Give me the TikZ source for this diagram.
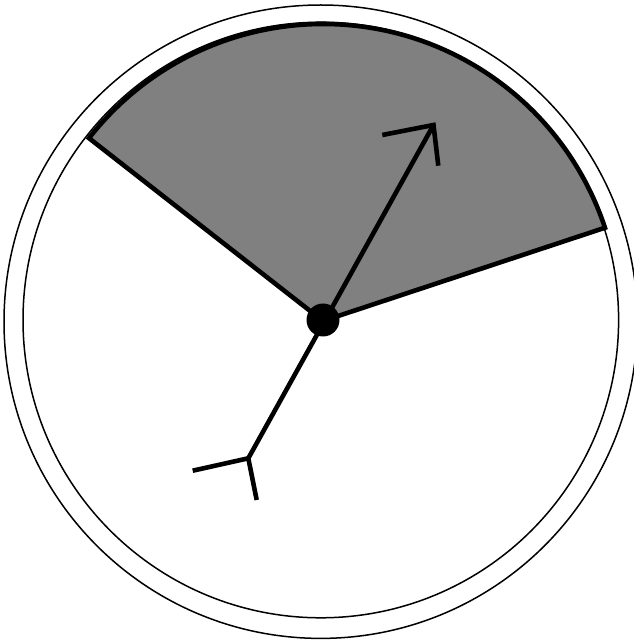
\documentclass[tikz,border=0pt]{standalone}
\definecolor{sectorgray}{RGB}{128,128,128}
\tikzset{
  ring/.style={line width=1.5pt, draw=black},
  sectorline/.style={line width=4.6pt, draw=black, fill=sectorgray, line join=miter},
  needle/.style={line width=4.6pt, draw=black, line cap=butt, line join=miter},
}
\begin{document}
\begin{tikzpicture}[x=1pt,y=1pt]
\useasboundingbox (0,0) rectangle (634,641);
% circles
\coordinate (oc) at (320.7,319.3);
\coordinate (ic) at (320.8,321);
\draw[ring] (oc) circle[radius=316.7];
\draw[ring] (ic) circle[radius=297.8];
% sector
\coordinate (c) at (323,320);
\draw[sectorline] (c) -- ++(142:297) arc[start angle=142, end angle=18.3, radius=297] -- cycle;
% needle
\coordinate (tip) at (433.5,516);
\coordinate (barbL) at (382.3,506);
\coordinate (barbR) at (438.3,475.3);
\coordinate (tail) at (248.3,182.7);
\coordinate (featL) at (192.7,170.3);
\coordinate (featR) at (256.7,141);
\draw[needle] (tail) -- (tip);
\draw[needle] (barbL) -- (tip) -- (barbR);
\draw[needle] (featL) -- (tail) -- (featR);
% pivot
\fill[black] (323,321) circle[radius=16.5];
\end{tikzpicture}
\end{document}
